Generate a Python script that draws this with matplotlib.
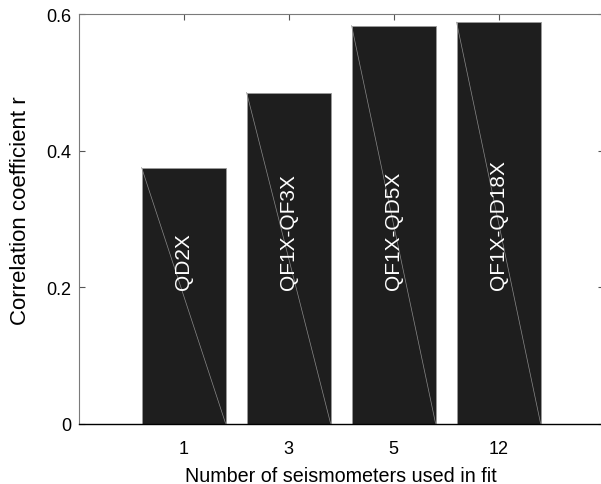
import matplotlib
matplotlib.use('Agg')
import matplotlib.pyplot as plt
import numpy as np

plt.rcParams['font.family'] = ['Liberation Sans', 'DejaVu Sans']

seismometers = ['1', '3', '5', '12']
corr = [0.375, 0.485, 0.583, 0.588]
stations = ['QD2X', 'QF1X-QF3X', 'QF1X-QD5X', 'QF1X-QD18X']

pos = np.arange(1, len(corr) + 1)
width = 0.8

fig = plt.figure(figsize=(6.01, 4.85), dpi=100)
ax = fig.add_axes([0.1308, 0.1247, 0.8735, 0.8443])

ax.bar(pos, corr, width, color='#1e1e1e', edgecolor='#9a9a9a', linewidth=0.6, zorder=2)
# triangulation seam across each bar
for x, v in zip(pos, corr):
    ax.plot([x - width / 2, x + width / 2], [v, 0], color='#8a8a8a', lw=0.5, zorder=3)
for x, s in zip(pos, stations):
    ax.text(x, 0.197, s, rotation=90, ha='center', va='bottom',
            color='white', fontsize=15, zorder=4)

ax.set_xlim(0, 5)
ax.set_ylim(0, 0.6)
ax.set_xticks(pos)
ax.set_xticklabels(seismometers)
ax.set_yticks([0, 0.2, 0.4, 0.6])
ax.set_yticklabels(['0', '0.2', '0.4', '0.6'])
ax.tick_params(direction='in', length=4, width=0.8, color='#555555',
               labelsize=13, top=True, right=True)
ax.tick_params(axis='y', pad=5)
ax.tick_params(axis='x', pad=12)

for side in ['left', 'top', 'right']:
    ax.spines[side].set_color('#7a7a7a')
    ax.spines[side].set_linewidth(0.8)
ax.spines['bottom'].set_color('#000000')
ax.spines['bottom'].set_linewidth(1.0)
ax.spines['bottom'].set_zorder(5)

ax.set_xlabel('Number of seismometers used in fit', fontsize=14.2)
ax.set_ylabel('Correlation coefficient r', fontsize=16)
ax.xaxis.set_label_coords(0.5, -0.104)
ax.yaxis.set_label_coords(-0.09, 0.521)

fig.savefig('out.png', dpi=100)
